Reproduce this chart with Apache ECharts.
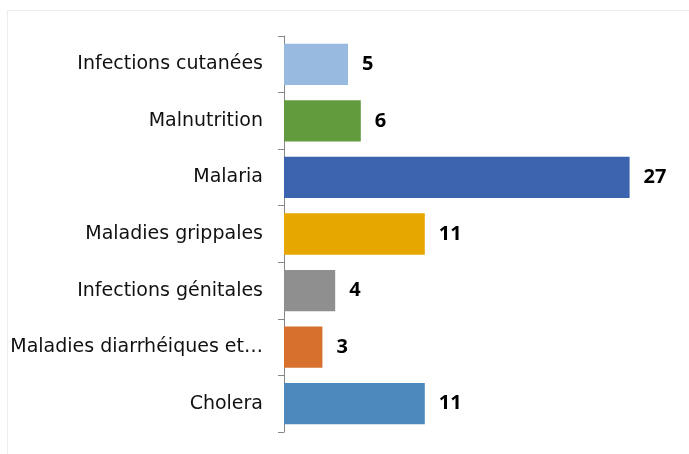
<!DOCTYPE html>
<html>
<head>
<meta charset="utf-8">
<script src="https://cdn.jsdelivr.net/npm/echarts@6/dist/echarts.min.js"></script>
<style>
  html, body { margin: 0; padding: 0; background: #fff; }
  #chart { width: 689px; height: 454px; }
</style>
</head>
<body>
<div id="chart"></div>
<script>
// categories, top to bottom
var categories = [
  'Infections cutanées',
  'Malnutrition',
  'Malaria',
  'Maladies grippales',
  'Infections génitales',
  'Maladies diarrhéiques et…',
  'Cholera'
];
var values = [5, 6, 27, 11, 4, 3, 11];
var colors = ['#98B9E0', '#629B3E', '#3B63AE', '#E6A800', '#8F8F8F', '#D6702C', '#4E89BE'];

var myChart = echarts.init(document.getElementById('chart'));

var option = {
  animation: false,
  graphic: [
    {
      type: 'rect',
      shape: { x: 7.5, y: 10.5, width: 720, height: 480 },
      style: { fill: 'none', stroke: '#ececec', lineWidth: 1 },
      silent: true
    }
  ],
  grid: {
    left: 284,
    right: 21,
    top: 36,
    bottom: 22,
    containLabel: false
  },
  xAxis: {
    type: 'value',
    min: 0,
    max: 30,
    show: false
  },
  yAxis: {
    type: 'category',
    inverse: true,
    data: categories,
    axisLine: {
      show: true,
      lineStyle: { color: '#868686', width: 1 }
    },
    axisTick: {
      show: true,
      length: 6,
      lineStyle: { color: '#868686' }
    },
    axisLabel: {
      margin: 21,
      color: '#111',
      fontSize: 19,
      fontFamily: 'DejaVu Sans'
    }
  },
  series: [
    {
      type: 'bar',
      barCategoryGap: '27%',
      data: values.map(function (v, i) {
        return { value: v, itemStyle: { color: colors[i] } };
      }),
      label: {
        show: true,
        position: 'right',
        distance: 14,
        color: '#000',
        fontSize: 20,
        fontWeight: 'bold',
        fontFamily: 'Open Sans'
      }
    }
  ]
};

myChart.setOption(option);
</script>
</body>
</html>
